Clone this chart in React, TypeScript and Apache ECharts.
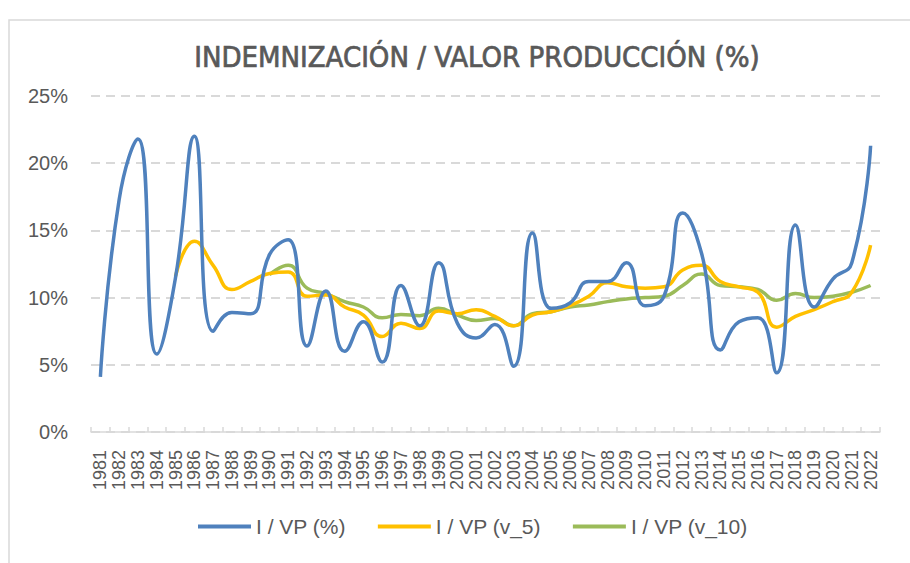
import React, { useEffect, useRef } from "react";
import * as echarts from "echarts";

const years: string[] = [
  "1981","1982","1983","1984","1985","1986","1987","1988","1989","1990",
  "1991","1992","1993","1994","1995","1996","1997","1998","1999","2000",
  "2001","2002","2003","2004","2005","2006","2007","2008","2009","2010",
  "2011","2012","2013","2014","2015","2016","2017","2018","2019","2020",
  "2021","2022",
];

const ivp: (number | null)[] = [
  4.1, 17.3, 21.8, 5.8, 11.5, 22.0, 7.5, 8.9, 8.8, 13.2,
  14.3, 6.4, 10.5, 6.0, 8.2, 5.2, 10.9, 7.9, 12.6, 8.1,
  7.0, 8.0, 4.9, 14.8, 9.2, 9.6, 11.2, 11.2, 12.6, 9.4,
  10.1, 16.3, 13.3, 6.1, 8.2, 8.5, 4.4, 15.4, 9.3, 11.4,
  12.6, 21.3,
];

const ivp5: (number | null)[] = [
  null, null, null, null, 11.6, 14.2, 12.4, 10.6, 11.2, 11.8,
  11.9, 10.1, 10.2, 9.3, 8.7, 7.1, 8.1, 7.7, 9.0, 8.8,
  9.1, 8.6, 7.9, 8.7, 8.95, 9.4, 10.1, 11.1, 10.8, 10.7,
  10.8, 12.05, 12.4, 11.2, 10.8, 10.4, 7.8, 8.6, 9.1, 9.7,
  10.4, 13.9,
];

const ivp10: (number | null)[] = [
  null, null, null, null, null, null, null, null, null, 11.7,
  12.4, 10.7, 10.3, 9.7, 9.3, 8.5, 8.75, 8.65, 9.2, 8.7,
  8.3, 8.45, 7.9, 8.8, 8.95, 9.3, 9.45, 9.7, 9.9, 10.0,
  10.1, 10.9, 11.75, 10.9, 10.8, 10.6, 9.8, 10.3, 10.0, 10.1,
  10.4, 10.9,
];

const seriesNames: string[] = ["I / VP (%)", "I / VP (v_5)", "I / VP (v_10)"];
const seriesColors: string[] = ["#4F81BD", "#FFC000", "#9BBB59"];
const titleText = "INDEMNIZACIÓN / VALOR PRODUCCIÓN (%)";

export default function App() {
  const ref = useRef<HTMLDivElement>(null);
  useEffect(() => {
    if (!ref.current) return;
    const chart = echarts.init(ref.current, undefined, { renderer: "svg" });
    const dataSets = [ivp, ivp5, ivp10];
    chart.setOption({
      animation: false,
      backgroundColor: "#ffffff",
      graphic: [
        {
          type: "rect",
          shape: { x: 9, y: 20, width: 1000, height: 600 },
          style: { fill: "none", stroke: "#d9d9d9", lineWidth: 1.5 },
          silent: true,
        },
        {
          type: "text",
          x: 477,
          y: 57,
          style: {
            text: titleText,
            fill: "#595959",
            stroke: "#595959",
            lineWidth: 0.7,
            font: "29px 'DejaVu Sans Condensed', 'Liberation Sans Narrow', sans-serif",
            textAlign: "center",
            textVerticalAlign: "middle",
          },
        },
      ],
      grid: { left: 91, right: 30, top: 96, bottom: 131 },
      legend: {
        data: seriesNames,
        left: 193,
        top: 511,
        icon: "rect",
        itemWidth: 53,
        itemHeight: 4,
        itemGap: 32,
        textStyle: {
          color: "#595959",
          fontSize: 21,
          fontFamily: "'Liberation Sans', sans-serif",
        },
      },
      xAxis: {
        type: "category",
        data: years,
        boundaryGap: true,
        axisLine: { show: true, lineStyle: { color: "#d9d9d9", width: 1.5 } },
        axisTick: { show: true, inside: true, length: 5, lineStyle: { color: "#d9d9d9", width: 1.5 } },
        axisLabel: {
          rotate: 90,
          interval: 0,
          margin: 18,
          color: "#595959",
          fontSize: 18,
          fontFamily: "'Liberation Sans', sans-serif",
        },
        splitLine: { show: false },
      },
      yAxis: {
        type: "value",
        min: 0,
        max: 25,
        interval: 5,
        axisLine: { show: false },
        axisTick: { show: false },
        axisLabel: {
          formatter: "{value}%",
          margin: 23,
          color: "#595959",
          fontSize: 20,
          fontFamily: "'Liberation Sans', sans-serif",
        },
        splitLine: { lineStyle: { color: "#d9d9d9", width: 2, type: [9, 6] } },
      },
      series: seriesNames.map((name, i) => ({
        name,
        type: "line",
        data: dataSets[i],
        smooth: 0.5,
        showSymbol: false,
        symbol: "none",
        connectNulls: false,
        lineStyle: { color: seriesColors[i], width: 3.5 },
        itemStyle: { color: seriesColors[i] },
        z: 3 - i,
      })),
    });
    return () => chart.dispose();
  }, []);
  return (
    <div
      ref={ref}
      style={{ position: "fixed", left: 0, top: 0, width: 910, height: 563 }}
    />
  );
}
